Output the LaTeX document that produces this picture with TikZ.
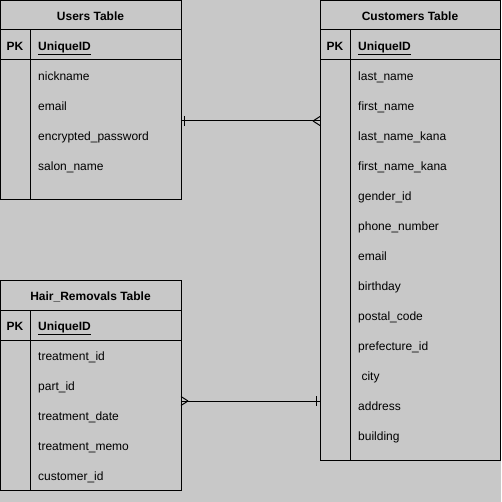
\documentclass[tikz,border=0pt]{standalone}
\usepackage{fontspec}
\setmainfont{Liberation Sans}
\definecolor{canvasGray}{HTML}{C8C8C8}

\tikzset{
    tableBox/.style={draw=black, line width=1pt},
    titleText/.style={font=\fontsize{12}{14}\selectfont\bfseries, anchor=base, inner sep=0pt},
    fieldText/.style={anchor=base west, inner sep=0pt},
    relLine/.style={draw=black, line width=1pt}
}

\begin{document}
\begin{tikzpicture}[x=1pt, y=-1pt, font=\fontsize{12}{14}\selectfont]
    \fill[canvasGray] (0,0) rectangle (501,502);
    \useasboundingbox (0,0) rectangle (501,502);

    % Users Table
    \draw[tableBox] (0.5,0.5) rectangle (181,200);
    \draw[tableBox] (0.5,30) -- (181,30);
    \draw[tableBox] (0.5,60) -- (181,60);
    \draw[tableBox] (30,30) -- (30,200);
    \node[titleText] (usersTitle) at (90.5,20.5) {Users Table};
    \node[titleText] (usersPK) at (15,50.5) {PK};
    \node[fieldText, titleText, anchor=base west] (usersID) at (38,50.5) {\underline{UniqueID}};
    \foreach \field [count=\i] in {nickname, email, encrypted\_password, salon\_name}
        \node[fieldText] (users\i) at (38,50.5+30*\i) {\field};

    % Customers Table
    \draw[tableBox] (320,0.5) rectangle (500.5,460);
    \draw[tableBox] (320,30) -- (500.5,30);
    \draw[tableBox] (320,60) -- (500.5,60);
    \draw[tableBox] (350,30) -- (350,460);
    \node[titleText] (custTitle) at (410,20.5) {Customers Table};
    \node[titleText] (custPK) at (335,50.5) {PK};
    \node[fieldText, titleText, anchor=base west] (custID) at (358,50.5) {\underline{UniqueID}};
    \foreach \field [count=\i] in {last\_name, first\_name, last\_name\_kana, first\_name\_kana,
        gender\_id, phone\_number, email, birthday, postal\_code, prefecture\_id, \ city,
        address, building}
        \node[fieldText] (cust\i) at (358,50.5+30*\i) {\field};

    % Hair_Removals Table
    \draw[tableBox] (0.5,280) rectangle (181,490);
    \draw[tableBox] (0.5,310) -- (181,310);
    \draw[tableBox] (0.5,340) -- (181,340);
    \draw[tableBox] (30,310) -- (30,490);
    \node[titleText] (hairTitle) at (90.5,300.5) {Hair\_Removals Table};
    \node[titleText] (hairPK) at (15,330.5) {PK};
    \node[fieldText, titleText, anchor=base west] (hairID) at (38,330.5) {\underline{UniqueID}};
    \foreach \field [count=\i] in {treatment\_id, part\_id, treatment\_date, treatment\_memo, customer\_id}
        \node[fieldText] (hair\i) at (38,330.5+30*\i) {\field};

    % relations
    \coordinate (usersEnd) at (181,121);
    \coordinate (custEnd) at (320,121);
    \coordinate (hairEnd) at (181,401);
    \coordinate (custEndB) at (320,401);

    \draw[relLine] (usersEnd) -- (custEnd);
    \draw[relLine] ([xshift=3pt]usersEnd) ++(0,-5) -- ++(0,10);
    \draw[relLine] ([xshift=-7pt]custEnd) -- ++(7,-4.5);
    \draw[relLine] ([xshift=-7pt]custEnd) -- ++(7,4.5);

    \draw[relLine] (hairEnd) -- (custEndB);
    \draw[relLine] ([xshift=-4pt]custEndB) ++(0,-5) -- ++(0,10);
    \draw[relLine] ([xshift=7pt]hairEnd) -- ++(-7,-4.5);
    \draw[relLine] ([xshift=7pt]hairEnd) -- ++(-7,4.5);
\end{tikzpicture}
\end{document}
